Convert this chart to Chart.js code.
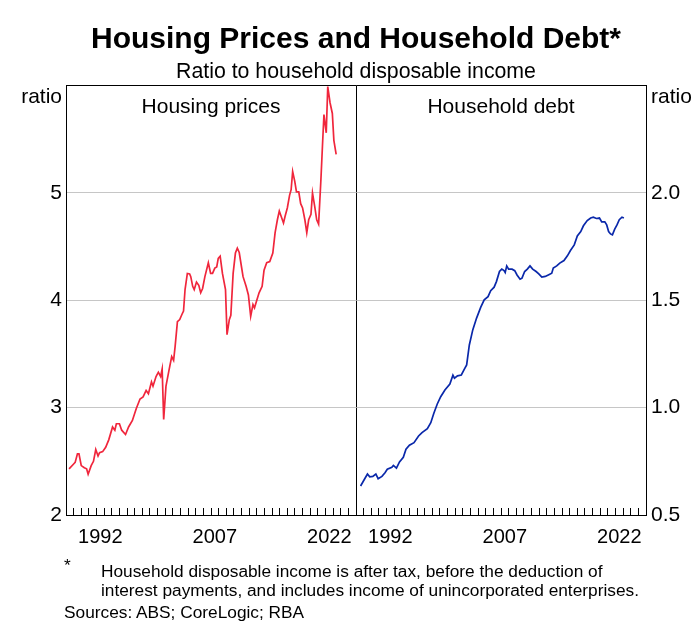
<!DOCTYPE html>
<html>

<head>
  <title>Housing Prices and Household Debt</title>
  <script type="text/javascript" src="https://cdn.jsdelivr.net/npm/chart.js"></script>
  <style>
    body { margin: 0; background: #fff; font-family: "Liberation Sans", Arial, sans-serif; }
    #wrap { position: relative; width: 696px; height: 624px; }
    .note { position: absolute; font-size: 17.3px; color: #000; white-space: nowrap; line-height: 19px; }
  </style>
</head>

<body>

  <div id="wrap">
    <canvas id="chart" width="696" height="624"></canvas>
    <div class="note" style="left:64px; top:556px;">*</div>
    <div class="note" style="left:101px; top:562px;">Household disposable income is after tax, before the deduction of<br>interest payments, and includes income of unincorporated enterprises.</div>
    <div class="note" style="left:64px; top:603px;">Sources: ABS; CoreLogic; RBA</div>
  </div>

  <script type="text/javascript">
    // housing prices to disposable income (left panel)
    const hpYears = [1988.4, 1989.0, 1989.2, 1989.5, 1989.7, 1990.0, 1990.4, 1990.7, 1990.9, 1991.3,
      1991.6, 1991.9, 1992.2, 1992.4, 1992.8, 1993.2, 1993.6, 1994.1, 1994.4, 1994.6,
      1995.0, 1995.3, 1995.8, 1996.2, 1996.7, 1997.2, 1997.7, 1998.1, 1998.5, 1998.8,
      1999.2, 1999.4, 1999.8, 2000.1, 2000.4, 2000.6, 2000.8, 2001.1, 2001.5, 2001.85,
      2002.1, 2002.3, 2002.6, 2002.9, 2003.2, 2003.4, 2003.6, 2003.9, 2004.2, 2004.35,
      2004.6, 2004.8, 2005.1, 2005.4, 2005.65, 2005.9, 2006.2, 2006.65, 2006.95, 2007.2,
      2007.5, 2007.75, 2007.95, 2008.2, 2008.5, 2008.9, 2009.1, 2009.4, 2009.6, 2009.9,
      2010.2, 2010.45, 2010.7, 2011.0, 2011.2, 2011.6, 2011.9, 2012.2, 2012.5, 2012.7,
      2013.0, 2013.3, 2013.7, 2013.95, 2014.3, 2014.7, 2015.1, 2015.4, 2015.7, 2015.95,
      2016.2, 2016.5, 2016.7, 2017.0, 2017.3, 2017.5, 2017.7, 2017.97, 2018.2, 2018.5,
      2018.75, 2019.0, 2019.3, 2019.55, 2019.8, 2020.1, 2020.3, 2020.6, 2020.85, 2021.1,
      2021.4, 2021.6, 2021.8, 2022.1, 2022.3, 2022.6, 2022.9, 2023.1, 2023.4];
    const hpValues = [2.43, 2.475, 2.49, 2.57, 2.57, 2.46, 2.44, 2.43, 2.38, 2.46,
      2.50, 2.61, 2.55, 2.58, 2.59, 2.63, 2.70, 2.82, 2.79, 2.85,
      2.85, 2.79, 2.75, 2.82, 2.88, 2.99, 3.08, 3.10, 3.16, 3.13,
      3.24, 3.20, 3.29, 3.33, 3.29, 3.36, 2.89, 3.20, 3.35, 3.475,
      3.44, 3.57, 3.80, 3.82, 3.87, 3.90, 4.10, 4.25, 4.245, 4.22,
      4.13, 4.10, 4.17, 4.14, 4.07, 4.11, 4.22, 4.35, 4.25, 4.25,
      4.30, 4.31, 4.39, 4.41, 4.25, 4.10, 3.68, 3.82, 3.86, 4.25,
      4.44, 4.485, 4.445, 4.31, 4.22, 4.13, 4.05, 3.85, 3.96, 3.93,
      4.00, 4.07, 4.13, 4.28, 4.35, 4.36, 4.44, 4.63, 4.75, 4.83,
      4.78, 4.72, 4.78, 4.86, 4.98, 5.03, 5.20, 5.11, 5.01, 5.01,
      4.90, 4.86, 4.75, 4.63, 4.75, 4.80, 5.00, 4.87, 4.75, 4.71,
      5.12, 5.43, 5.73, 5.56, 5.99, 5.84, 5.74, 5.49, 5.36];

    // household debt to disposable income (right panel)
    const debtYears = [1988.6, 1989.05, 1989.5, 1989.8, 1990.2, 1990.6, 1990.9, 1991.4, 1991.8, 1992.1,
      1992.7, 1992.9, 1993.3, 1993.7, 1994.2, 1994.55, 1995.0, 1995.6, 1996.2, 1996.65,
      1997.35, 1997.8, 1998.2, 1998.65, 1999.1, 1999.65, 2000.3, 2000.7, 2000.9, 2001.3,
      2001.8, 2002.2, 2002.5, 2002.85, 2003.3, 2003.8, 2004.35, 2004.8, 2005.3, 2005.65,
      2006.1, 2006.4, 2006.8, 2007.1, 2007.4, 2007.55, 2007.75, 2008.0, 2008.45, 2008.8,
      2009.1, 2009.5, 2009.75, 2010.1, 2010.45, 2010.8, 2011.15, 2011.6, 2011.95, 2012.35,
      2012.8, 2013.2, 2013.65, 2013.85, 2014.3, 2014.7, 2015.25, 2015.7, 2016.1, 2016.6,
      2017.0, 2017.45, 2017.8, 2018.3, 2018.75, 2019.1, 2019.5, 2019.9, 2020.2, 2020.6,
      2020.85, 2021.1, 2021.35, 2021.6, 2021.9, 2022.2, 2022.5, 2022.85, 2023.1];
    const debtValues = [0.635, 0.663, 0.691, 0.678, 0.68, 0.691, 0.669, 0.68, 0.697, 0.713,
      0.722, 0.731, 0.718, 0.747, 0.769, 0.806, 0.825, 0.837, 0.868, 0.884,
      0.902, 0.93, 0.974, 1.017, 1.051, 1.082, 1.11, 1.151, 1.137, 1.148,
      1.152, 1.179, 1.199, 1.292, 1.362, 1.417, 1.468, 1.502, 1.517, 1.545,
      1.561, 1.587, 1.634, 1.645, 1.638, 1.629, 1.66, 1.645, 1.645, 1.638,
      1.618, 1.598, 1.603, 1.634, 1.645, 1.66, 1.645, 1.634, 1.623, 1.608,
      1.611, 1.618, 1.626, 1.65, 1.66, 1.673, 1.685, 1.707, 1.732, 1.758,
      1.80, 1.82, 1.847, 1.871, 1.883, 1.887, 1.881, 1.883, 1.865, 1.865,
      1.851, 1.82, 1.809, 1.805, 1.831, 1.851, 1.875, 1.887, 1.883];

    const panelTitles = ['Housing prices', 'Household debt'];
    const labelYears = [1992, 2007, 2022];
    const xMin = 1988;
    const xMax = 2026;

    const FONT = '"Liberation Sans", Arial, sans-serif';
    const GRID_GREY = '#c6c6c6';

    function toPoints(xs, ys) {
      return xs.map((x, i) => ({x: x, y: ys[i]}));
    }

    function xAxis(showDivider) {
      return {
        type: 'linear',
        position: 'bottom',
        stack: 'years',
        min: xMin,
        max: xMax,
        afterFit: function(scale) { scale.height = 55; },
        border: {display: true, color: '#000', width: 1},
        grid: {
          drawOnChartArea: showDivider,
          color: ctx => (showDivider && ctx.tick && ctx.tick.value === xMin) ? '#000' : 'rgba(0,0,0,0)',
          tickColor: '#000',
          tickLength: -7,
          lineWidth: 1
        },
        ticks: {
          stepSize: 1,
          autoSkip: false,
          maxRotation: 0,
          padding: 17,
          labelOffset: 3.8,
          color: '#000',
          font: {family: FONT, size: 20},
          callback: v => labelYears.includes(v) ? String(v) : ''
        }
      };
    }

    // writes the panel names inside the top of each panel
    const panelLabels = {
      id: 'panelLabels',
      afterDatasetsDraw(chart) {
        const ctx = chart.ctx;
        const top = chart.chartArea.top;
        ctx.save();
        ctx.font = '21px ' + FONT;
        ctx.fillStyle = '#000';
        ctx.textAlign = 'center';
        ctx.textBaseline = 'middle';
        ['x', 'x2'].forEach((id, i) => {
          const s = chart.scales[id];
          ctx.fillText(panelTitles[i], (s.left + s.right) / 2, top + 22);
        });
        ctx.restore();
      }
    };

    const ctx = document.getElementById('chart');
    new Chart(ctx, {
      type: 'line',
      data: {
        datasets: [
          {
            label: panelTitles[0],
            data: toPoints(hpYears, hpValues),
            xAxisID: 'x',
            yAxisID: 'y',
            borderColor: '#f0263c',
            borderWidth: 1.7,
            pointRadius: 0,
            tension: 0
          },
          {
            label: panelTitles[1],
            data: toPoints(debtYears, debtValues),
            xAxisID: 'x2',
            yAxisID: 'y2',
            borderColor: '#0a28aa',
            borderWidth: 1.7,
            pointRadius: 0,
            tension: 0
          }
        ]
      },
      options: {
        responsive: false,
        animation: false,
        layout: {padding: {left: 16, right: 0, top: 0, bottom: 54}},
        plugins: {
          legend: {display: false},
          tooltip: {enabled: false},
          title: {
            display: true,
            text: 'Housing Prices and Household Debt*',
            color: '#000',
            font: {family: FONT, size: 30, weight: 'bold', lineHeight: 1.2},
            padding: {top: 22, bottom: 0}
          },
          subtitle: {
            display: true,
            text: 'Ratio to household disposable income',
            color: '#000',
            font: {family: FONT, size: 21.3, lineHeight: 1.2},
            padding: {top: 1, bottom: 1}
          }
        },
        scales: {
          x: xAxis(false),
          x2: xAxis(true),
          y: {
            type: 'linear',
            position: 'left',
            min: 2,
            max: 6,
            afterFit: function(scale) { scale.width = 50; },
            border: {display: true, color: '#000', width: 1},
            grid: {
              drawTicks: false,
              color: c => (c.tick.value === 6 || c.tick.value === 2) ? '#000' : GRID_GREY,
              lineWidth: 1
            },
            ticks: {
              stepSize: 1,
              padding: 4,
              color: '#000',
              font: {family: FONT, size: 21, lineHeight: 1.1},
              callback: v => v === 6 ? ['', 'ratio'] : String(v)
            }
          },
          y2: {
            type: 'linear',
            position: 'right',
            min: 0.5,
            max: 2.5,
            afterFit: function(scale) { scale.width = 50; },
            border: {display: true, color: '#000', width: 1},
            grid: {drawOnChartArea: false, drawTicks: false},
            ticks: {
              stepSize: 0.5,
              padding: 5,
              color: '#000',
              font: {family: FONT, size: 21, lineHeight: 1.1},
              callback: v => v === 2.5 ? ['', 'ratio'] : v.toFixed(1)
            }
          }
        }
      },
      plugins: [panelLabels]
    });
  </script>

</body>

</html>
